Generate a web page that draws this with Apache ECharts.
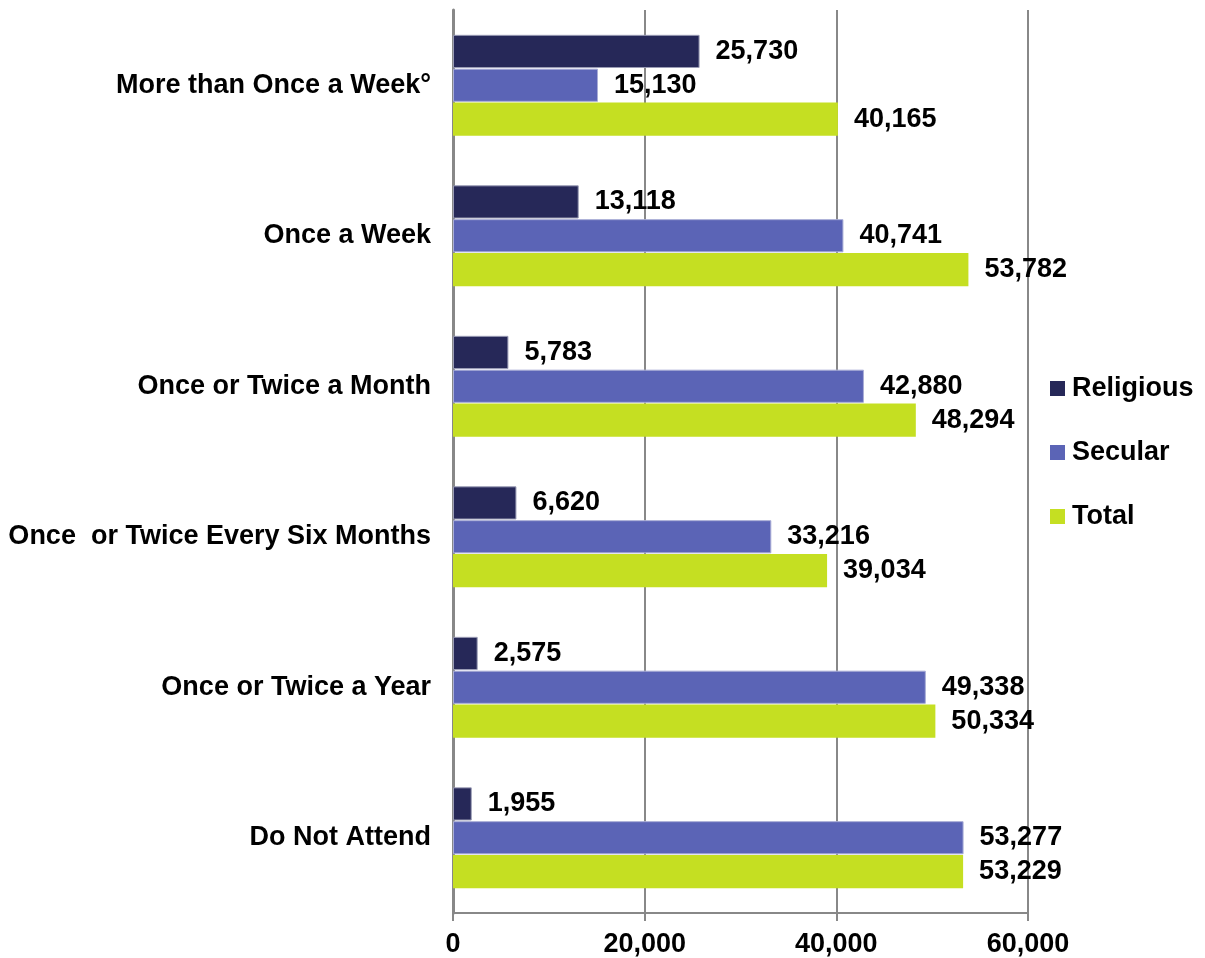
<!DOCTYPE html>
<html>
<head>
<meta charset="utf-8">
<script src="https://cdn.jsdelivr.net/npm/echarts@6/dist/echarts.min.js"></script>
<style>html,body{margin:0;padding:0;background:#fff;}#c{width:1205px;height:958px;}</style>
</head>
<body>
<div id="c"></div>
<script>
const categories = ["More than Once a Week°", "Once a Week", "Once or Twice a Month", "Once  or Twice Every Six Months", "Once or Twice a Year", "Do Not Attend"];
const religious = [25730, 13118, 5783, 6620, 2575, 1955];
const secular = [15130, 40741, 42880, 33216, 49338, 53277];
const total = [40165, 53782, 48294, 39034, 50334, 53229];
const xTicks = [0, 20000, 40000, 60000];

const font = 'Liberation Sans, Arial, sans-serif';
const fs = 27;
const fmt = v => v.toLocaleString('en-US');
const label = {
  show: true, position: 'right', distance: 16,
  fontFamily: font, fontWeight: 'bold', fontSize: fs, color: '#000',
  formatter: p => fmt(p.value)
};
const chart = echarts.init(document.getElementById('c'));
chart.setOption({
  animation: false,
  grid: { left: 453, right: 177, top: 10, bottom: 45, containLabel: false },
  legend: {
    orient: 'vertical', left: 1045, top: 370, itemWidth: 15, itemHeight: 15, itemGap: 37,
    icon: 'rect',
    itemStyle: { borderWidth: 0 },
    textStyle: { fontFamily: font, fontWeight: 'bold', fontSize: fs, color: '#000', padding: [0, 0, 0, 2] },
    data: ['Religious', 'Secular', 'Total']
  },
  xAxis: {
    type: 'value', min: xTicks[0], max: xTicks[xTicks.length - 1], interval: xTicks[1] - xTicks[0],
    axisLine: { show: true, lineStyle: { color: '#888', width: 2 } },
    axisTick: { show: true, length: 8, lineStyle: { color: '#888', width: 2 } },
    splitLine: { show: true, lineStyle: { color: '#888', width: 2 } },
    axisLabel: { margin: 18, fontFamily: font, fontWeight: 'bold', fontSize: fs, color: '#000', formatter: v => fmt(v) }
  },
  yAxis: {
    type: 'category', data: categories, inverse: true,
    axisLine: { show: true, lineStyle: { color: '#888', width: 3 } },
    axisTick: { show: false },
    axisLabel: { margin: 22, fontFamily: font, fontWeight: 'bold', fontSize: fs, color: '#000' }
  },
  series: [
    { name: 'Religious', type: 'bar', data: religious, barGap: '2%', barCategoryGap: '33%',
      itemStyle: { color: '#262858', borderColor: '#9a9cb5', borderWidth: 1 }, label },
    { name: 'Secular', type: 'bar', data: secular,
      itemStyle: { color: '#5B64B6', borderColor: '#a9add6', borderWidth: 1 }, label },
    { name: 'Total', type: 'bar', data: total,
      itemStyle: { color: '#C5DF22' }, label }
  ]
});
</script>
</body>
</html>
